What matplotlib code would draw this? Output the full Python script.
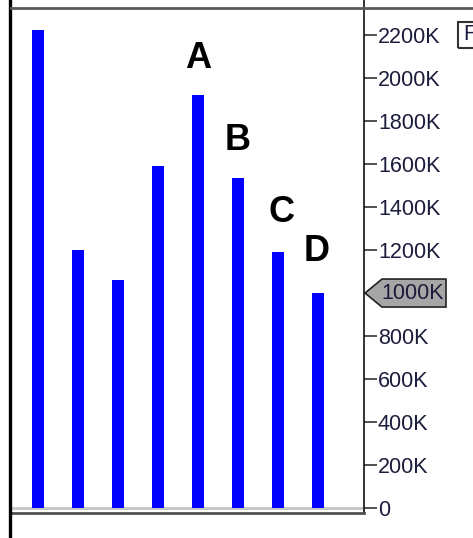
import matplotlib.pyplot as plt
from matplotlib.lines import Line2D
from matplotlib.patches import Polygon, Rectangle

plt.rcParams['font.family'] = ['Liberation Sans', 'DejaVu Sans']

# bar heights in K
values = [2225, 1200, 1060, 1590, 1920, 1535, 1190, 1000]
# letter marks: (bar index, letter)
marks = [(4, 'A'), (5, 'B'), (6, 'C'), (7, 'D')]
tick_vals = list(range(0, 2201, 200))
tick_labels = ['0'] + [f'{v}K' for v in tick_vals[1:]]
last_label = '1000K'

W, H = 473, 538
fig = plt.figure(figsize=(W / 100, H / 100), dpi=100)
ax = fig.add_axes([11 / W, 25 / H, 353 / W, 513 / H])

x = list(range(len(values)))
ax.bar(x, values, width=0.3, color='#0000ff', zorder=3)
ax.set_xlim(-0.675, 8.15)
ax.set_ylim(-23, 2363)
ax.axhline(0, color='#c8c8c8', lw=2.2, zorder=2)

ax.set_xticks([])
ax.yaxis.tick_right()
ax.set_yticks(tick_vals)
ax.set_yticklabels(tick_labels)
ax.tick_params(axis='y', length=9, width=1.2, color='#333333', pad=1,
               labelsize=15.5, labelcolor='#1c1c3c')

for s in ['left', 'top']:
    ax.spines[s].set_visible(False)
ax.spines['right'].set_color('#111111')
ax.spines['right'].set_linewidth(1.2)
ax.spines['bottom'].set_color('#505050')
ax.spines['bottom'].set_linewidth(2)

# letters above bars
offs = {'A': (0, 19), 'B': (0, 20), 'C': (3, 22), 'D': (-1.5, 24)}
for i, letter in marks:
    ax.annotate(letter, (i, values[i]), xytext=offs[letter],
                textcoords='offset pixels', ha='center', va='bottom',
                fontsize=26, fontweight='bold', color='black')

# last value marker on the axis
py = ax.transData.transform((0, values[-1]))[1]
px = ax.transAxes.transform((1, 0))[0]
verts = [(px + 1, py), (px + 18, py + 14), (px + 82, py + 14),
         (px + 82, py - 14), (px + 18, py - 14)]
fig.add_artist(Polygon(verts, closed=True, transform=None,
                       facecolor='#a6a6a6', edgecolor='#222222', lw=1.2))
fig.text((px + 49) / W, py / H, last_label, ha='center', va='center',
         fontsize=15.5, color='#20183a')

# frame lines
fig.add_artist(Line2D([9.5, 9.5], [0, H], transform=None, color='black', lw=2.4))
fig.add_artist(Line2D([11, W], [H - 8, H - 8], transform=None, color='#5a5a5a', lw=2))

# cut-off box at top right
fig.add_artist(Rectangle((458, H - 48), 30, 26, transform=None,
                         fill=False, edgecolor='#333333', lw=1.5))
fig.text(463 / W, (H - 35) / H, 'F', ha='left', va='center',
         fontsize=15.5, color='#1c1c3c')

fig.savefig('out.png', dpi=100)
